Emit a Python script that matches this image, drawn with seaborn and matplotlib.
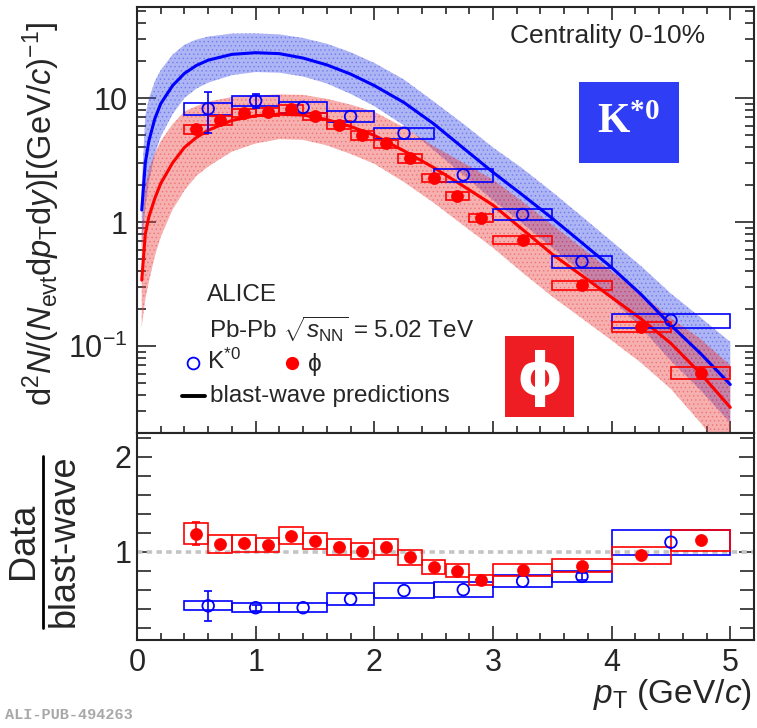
import numpy as np
import pandas as pd
import matplotlib
matplotlib.use("Agg")
import matplotlib.pyplot as plt
import seaborn as sns
from matplotlib.ticker import MultipleLocator, FixedLocator, NullFormatter, FixedFormatter
from matplotlib.lines import Line2D
from matplotlib.patches import Rectangle

# ---------------- data ----------------
bw_pt = [0.04, 0.07, 0.1, 0.15, 0.2, 0.3, 0.4, 0.5, 0.6, 0.8, 1.0, 1.2, 1.4, 1.6,
         1.8, 2.0, 2.25, 2.5, 2.75, 3.0, 3.25, 3.5, 3.75, 4.0, 4.25, 4.5, 4.75, 5.0]
kstar_bw = [1.25, 3.0, 4.5, 6.8, 9.0, 12.6, 15.8, 18.3, 20.2, 22.5, 23.2, 22.8, 21.0, 18.5,
            15.6, 12.6, 9.2, 6.2, 3.95, 2.52, 1.65, 1.07, 0.68, 0.43, 0.26, 0.147, 0.087, 0.049]
kstar_bw_hi = [2.0, 7.2, 9.9, 13.6, 16.8, 22.4, 26.9, 29.6, 31.3, 33.1, 33.2, 32.6, 30.5, 27.4,
               23.4, 19.2, 14.1, 9.4, 6.2, 4.0, 2.7, 1.75, 1.11, 0.70, 0.44, 0.265, 0.17, 0.108]
kstar_bw_lo = [0.62, 1.3, 2.1, 3.5, 4.9, 7.4, 10.0, 11.9, 13.3, 15.3, 16.2, 16.0, 14.9, 13.1,
               10.8, 8.6, 6.0, 3.8, 2.4, 1.5, 0.97, 0.62, 0.39, 0.24, 0.14, 0.076, 0.044, 0.024]
phi_bw = [0.34, 0.8, 1.1, 1.55, 2.05, 3.0, 4.0, 4.8, 5.5, 6.6, 7.2, 7.4, 7.3, 6.7,
          5.9, 5.0, 3.75, 2.75, 1.95, 1.37, 0.87, 0.55, 0.37, 0.247, 0.165, 0.105, 0.060, 0.032]
phi_bw_hi = [0.85, 1.96, 2.64, 3.57, 4.5, 6.15, 7.8, 8.6, 9.35, 10.2, 10.5, 10.7, 10.6, 9.85,
             8.85, 7.75, 5.8, 4.1, 3.0, 2.2, 1.46, 0.95, 0.62, 0.40, 0.264, 0.168, 0.114, 0.070]
phi_bw_lo = [0.143, 0.24, 0.33, 0.53, 0.76, 1.26, 1.8, 2.35, 2.8, 3.7, 4.3, 4.66, 4.6, 4.15,
             3.54, 2.95, 2.1, 1.43, 0.94, 0.62, 0.39, 0.25, 0.167, 0.111, 0.073, 0.045, 0.024, 0.012]

kstar_edges = [0.4, 0.8, 1.2, 1.6, 2.0, 2.5, 3.0, 3.5, 4.0, 5.0]
kstar_pt = [0.6, 1.0, 1.4, 1.8, 2.25, 2.75, 3.25, 3.75, 4.5]
kstar_yield = [8.2, 9.5, 8.4, 7.1, 5.2, 2.4, 1.15, 0.48, 0.161]
kstar_stat = [3.0, 1.2, 0, 0, 0, 0, 0, 0, 0]
kstar_syst = [0.9, 0.95, 0.85, 0.75, 0.55, 0.3, 0.12, 0.053, 0.02]
kstar_ratio = [0.43, 0.41, 0.41, 0.50, 0.59, 0.60, 0.69, 0.74, 1.10]
kstar_ratio_stat = [0.16, 0.03, 0, 0, 0, 0, 0, 0.04, 0]
kstar_ratio_syst = [0.046, 0.046, 0.048, 0.062, 0.08, 0.08, 0.066, 0.06, 0.13]

phi_edges = [0.4, 0.6, 0.8, 1.0, 1.2, 1.4, 1.6, 1.8, 2.0, 2.2, 2.4, 2.6, 2.8, 3.0, 3.5, 4.0, 4.5, 5.0]
phi_pt = [0.5, 0.7, 0.9, 1.1, 1.3, 1.5, 1.7, 1.9, 2.1, 2.3, 2.5, 2.7, 2.9, 3.25, 3.75, 4.25, 4.75]
phi_yield = [5.6, 6.6, 7.6, 7.7, 8.2, 7.1, 6.1, 5.0, 4.3, 3.26, 2.27, 1.62, 1.08, 0.72, 0.31, 0.143, 0.061]
phi_syst = [0.45, 0.5, 0.55, 0.55, 0.6, 0.5, 0.45, 0.38, 0.32, 0.25, 0.18, 0.12, 0.08, 0.05, 0.026, 0.012, 0.0065]
phi_ratio = [1.19, 1.08, 1.09, 1.07, 1.17, 1.11, 1.05, 1.01, 1.05, 0.94, 0.84, 0.80, 0.70, 0.81, 0.85, 0.96, 1.12]
phi_ratio_stat = [0.12, 0, 0, 0, 0, 0, 0, 0.03, 0, 0, 0, 0, 0, 0, 0, 0, 0.04]
phi_ratio_syst = [0.11, 0.094, 0.09, 0.076, 0.085, 0.085, 0.083, 0.083, 0.085, 0.082, 0.073, 0.066, 0.055,
                  0.062, 0.069, 0.085, 0.11]

x_ticks = [0, 1, 2, 3, 4, 5]
y_top_ticks = [0.1, 1, 10]
y_top_labels = [r"$\mathregular{10^{-1}}$", "1", "10"]
y_bot_ticks = [1, 2]

# ---------------- style ----------------
sns.set_style("ticks")
plt.rcParams["font.family"] = ["Liberation Sans", "DejaVu Sans"]
plt.rcParams["mathtext.fontset"] = "custom"
plt.rcParams["mathtext.rm"] = "Liberation Sans"
plt.rcParams["mathtext.it"] = "Liberation Sans:italic"
plt.rcParams["mathtext.bf"] = "Liberation Serif:bold"
plt.rcParams["hatch.linewidth"] = 0.6

BLUE = "#0000ff"
RED = "#ff0000"


def visible(xs, ys, es):
    xs, ys, es = np.asarray(xs), np.asarray(ys), np.asarray(es)
    m = es > 0
    return xs[m], ys[m], es[m]


fig = plt.figure(figsize=(7.57, 7.28), dpi=100)
ax1 = fig.add_axes([137 / 757, 1 - 433 / 728, 617 / 757, 426 / 728])
ax2 = fig.add_axes([137 / 757, 1 - 640 / 728, 617 / 757, 207 / 728])

# ---------------- top panel ----------------
ax1.set_yscale("log")
ax1.fill_between(bw_pt, kstar_bw_lo, kstar_bw_hi, facecolor="#3646e6", edgecolor="#3646e6",
                 alpha=0.40, linewidth=0, hatch="....", zorder=1)
ax1.fill_between(bw_pt, phi_bw_lo, phi_bw_hi, facecolor="#ea3a3a", edgecolor="#ea3a3a",
                 alpha=0.40, linewidth=0, hatch="....", zorder=1.1)

df_k = pd.DataFrame({"pt": bw_pt, "val": kstar_bw})
df_p = pd.DataFrame({"pt": bw_pt, "val": phi_bw})
sns.lineplot(data=df_k, x="pt", y="val", ax=ax1, color=BLUE, lw=2.2, sort=False, estimator=None, zorder=3)
sns.lineplot(data=df_p, x="pt", y="val", ax=ax1, color=RED, lw=2.2, sort=False, estimator=None, zorder=3)

k_left = np.array(kstar_edges[:-1])
k_w = np.diff(kstar_edges)
p_left = np.array(phi_edges[:-1])
p_w = np.diff(phi_edges)

ky = np.array(kstar_yield); ks = np.array(kstar_syst)
py = np.array(phi_yield); ps = np.array(phi_syst)
ax1.bar(k_left, 2 * ks, bottom=ky - ks, width=k_w, align="edge", fill=False,
        edgecolor=BLUE, linewidth=1.2, zorder=4)
ax1.bar(p_left, 2 * ps, bottom=py - ps, width=p_w, align="edge", fill=False,
        edgecolor=RED, linewidth=1.2, zorder=4)

ex, ey, ee = visible(kstar_pt, kstar_yield, kstar_stat)
ax1.errorbar(ex, ey, yerr=ee, fmt="none", ecolor=BLUE, elinewidth=1.2,
             capsize=3, capthick=1.2, zorder=5)
ax1.scatter(kstar_pt, kstar_yield, s=70, facecolors="none", edgecolors=BLUE, linewidths=1.3, zorder=6)
sns.scatterplot(x=phi_pt, y=phi_yield, ax=ax1, color=RED, s=75, edgecolor=RED, linewidth=0.5, zorder=6)

ax1.set_xlim(0, 5.2)
ax1.set_ylim(0.0199, 54.2)
ax1.set_xlabel("")
ax1.set_ylabel("")
ax1.xaxis.set_major_locator(FixedLocator(x_ticks))
ax1.xaxis.set_minor_locator(MultipleLocator(0.2))
ax1.yaxis.set_major_locator(FixedLocator(y_top_ticks))
ax1.yaxis.set_major_formatter(FixedFormatter(y_top_labels))
minor_top = [m * 10.0 ** e for e in (-2, -1, 0, 1) for m in range(2, 10)]
ax1.yaxis.set_minor_locator(FixedLocator(minor_top))
ax1.yaxis.set_minor_formatter(NullFormatter())
ax1.tick_params(axis="x", which="both", direction="in", top=True, bottom=True, labelbottom=False)
ax1.tick_params(axis="x", which="major", length=9, width=1.2)
ax1.tick_params(axis="x", which="minor", length=5, width=1.2)
ax1.tick_params(axis="y", which="both", direction="in", left=True, right=True)
ax1.tick_params(axis="y", which="major", length=14, width=1.2, labelsize=22, pad=7)
ax1.tick_params(axis="y", which="minor", length=6.5, width=1.2)
for s in ax1.spines.values():
    s.set_linewidth(1.5)
    s.set_visible(True)

# boxes with particle names
ax1.add_patch(Rectangle((0.716, 0.634), 0.162, 0.190, transform=ax1.transAxes,
                        facecolor="#2f3df5", edgecolor="none", zorder=7))
ax1.text(0.797, 0.729, r"$\mathbf{K^{*0}}$", transform=ax1.transAxes, color="white",
         fontsize=30, ha="center", va="center", zorder=8)
ax1.add_patch(Rectangle((0.596, 0.038), 0.113, 0.190, transform=ax1.transAxes,
                        facecolor="#ee1d24", edgecolor="none", zorder=7))
ax1.text(0.6525, 0.128, "ϕ", transform=ax1.transAxes, color="white", fontsize=42,
         family="DejaVu Sans", fontweight="bold", ha="center", va="center", zorder=8)

# texts / legend
ax1.text(0.921, 0.932, "Centrality 0-10%", transform=ax1.transAxes, fontsize=19,
         ha="right", va="center")
ax1.text(0.113, 0.324, "ALICE", transform=ax1.transAxes, fontsize=17.5, ha="left", va="center")
ax1.text(0.116, 0.244, r"Pb-Pb $\sqrt{\mathit{s}_{\mathregular{NN}}}$ = 5.02 TeV",
         transform=ax1.transAxes, fontsize=17.5, ha="left", va="center")
ax1.plot([0.091], [0.164], "o", mfc="none", mec=BLUE, ms=8.5, mew=1.3, transform=ax1.transAxes, clip_on=False)
ax1.text(0.114, 0.168, r"K$\mathregular{^{*0}}$", transform=ax1.transAxes, fontsize=17.5,
         ha="left", va="center")
ax1.plot([0.251], [0.164], "o", mfc=RED, mec=RED, ms=8.5, transform=ax1.transAxes, clip_on=False)
ax1.text(0.277, 0.160, "ϕ", transform=ax1.transAxes, fontsize=17.5, ha="left", va="center")
ax1.plot([0.073, 0.110], [0.087, 0.087], color="black", lw=2.8, transform=ax1.transAxes, clip_on=False)
ax1.text(0.118, 0.087, "blast-wave predictions", transform=ax1.transAxes, fontsize=17.5,
         ha="left", va="center")

# ---------------- bottom panel ----------------
ax2.axhline(1.0, color="#c4c4c4", ls=(0, (1.5, 1.2)), lw=2.6, zorder=1)
kr = np.array(kstar_ratio); krs = np.array(kstar_ratio_syst)
pr = np.array(phi_ratio); prs = np.array(phi_ratio_syst)
ax2.bar(k_left, 2 * krs, bottom=kr - krs, width=k_w, align="edge", fill=False,
        edgecolor=BLUE, linewidth=1.2, zorder=3)
ax2.bar(p_left, 2 * prs, bottom=pr - prs, width=p_w, align="edge", fill=False,
        edgecolor=RED, linewidth=1.2, zorder=3)
ex, ey, ee = visible(kstar_pt, kstar_ratio, kstar_ratio_stat)
ax2.errorbar(ex, ey, yerr=ee, fmt="none", ecolor=BLUE, elinewidth=1.2,
             capsize=3, capthick=1.2, zorder=4)
ex, ey, ee = visible(phi_pt, phi_ratio, phi_ratio_stat)
ax2.errorbar(ex, ey, yerr=ee, fmt="none", ecolor=RED, elinewidth=1.2,
             capsize=3, capthick=1.2, zorder=4)
ax2.scatter(kstar_pt, kstar_ratio, s=70, facecolors="none", edgecolors=BLUE, linewidths=1.3, zorder=5)
sns.scatterplot(x=phi_pt, y=phi_ratio, ax=ax2, color=RED, s=75, edgecolor=RED, linewidth=0.5, zorder=5)

ax2.set_xlim(0, 5.2)
ax2.set_ylim(0.07, 2.25)
ax2.set_xlabel("")
ax2.set_ylabel("")
ax2.xaxis.set_major_locator(FixedLocator(x_ticks))
ax2.xaxis.set_minor_locator(MultipleLocator(0.2))
ax2.yaxis.set_major_locator(FixedLocator(y_bot_ticks))
ax2.yaxis.set_minor_locator(MultipleLocator(0.2))
ax2.tick_params(axis="x", which="both", direction="in", top=False, bottom=True)
ax2.tick_params(axis="x", which="major", length=10, width=1.2, labelsize=22, pad=6)
ax2.tick_params(axis="x", which="minor", length=5, width=1.2)
ax2.tick_params(axis="y", which="both", direction="in", left=True, right=True)
ax2.tick_params(axis="y", which="major", length=11, width=1.2, labelsize=22, pad=4)
ax2.tick_params(axis="y", which="minor", length=10, width=1.2)
for s in ax2.spines.values():
    s.set_linewidth(1.5)
    s.set_visible(True)

# ---------------- axis titles ----------------
ylabel = (r"d$^{2}$$\mathit{N}$/($\mathit{N}_{\mathregular{evt}}$d$\mathit{p}_{\mathregular{T}}$"
          r"d$\mathit{y}$)[(GeV/$\mathit{c}$)$^{-1}$]")
fig.text(0.055, 0.706, ylabel, rotation=90, ha="center", va="center", fontsize=23.5)
fig.text(0.993, 0.034, r"$\mathit{p}_{\mathregular{T}}$ (GeV/$\mathit{c}$)", ha="right",
         va="baseline", fontsize=24)
fig.text(0.031, 0.257, "Data", rotation=90, ha="center", va="center", fontsize=26)
fig.text(0.085, 0.257, "blast-wave", rotation=90, ha="center", va="center", fontsize=26)
fig.add_artist(Line2D([43 / 757, 43 / 757], [1 - 628 / 728, 1 - 456 / 728], color="black",
                      lw=2.0, transform=fig.transFigure))
fig.text(0.006, 0.012, "ALI-PUB-494263", family=["Liberation Mono", "DejaVu Sans Mono"],
         fontweight="bold", color="#a8a8a8", fontsize=11)

fig.savefig("out.png", dpi=100)
